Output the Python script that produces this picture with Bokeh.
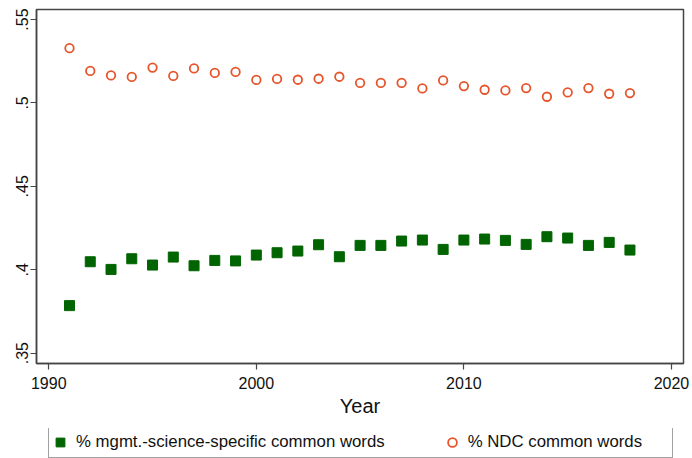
from bokeh.plotting import figure
from bokeh.models import Range1d, Legend, LegendItem, FixedTicker
from bokeh.layouts import column
from bokeh.embed import file_html
from bokeh.resources import INLINE

years = list(range(1991, 2019))
ndc_common = [0.5328, 0.5192, 0.5165, 0.5156, 0.5212, 0.5162, 0.5207, 0.5180, 0.5186, 0.5138,
              0.5144, 0.5139, 0.5145, 0.5157, 0.5120, 0.5120, 0.5120, 0.5087, 0.5135, 0.5101,
              0.5079, 0.5075, 0.5089, 0.5037, 0.5063, 0.5089, 0.5055, 0.5059]
mgmt_common = [0.3785, 0.4048, 0.4002, 0.4066, 0.4028, 0.4076, 0.4024, 0.4056, 0.4053, 0.4088,
               0.4102, 0.4112, 0.4150, 0.4078, 0.4146, 0.4146, 0.4172, 0.4178, 0.4122, 0.4178,
               0.4184, 0.4176, 0.4152, 0.4198, 0.4190, 0.4146, 0.4164, 0.4118]
x_ticks = [1990, 2000, 2010, 2020]
y_ticks = [0.35, 0.4, 0.45, 0.5, 0.55]
y_tick_labels = [".35", ".4", ".45", ".5", ".55"]
label_mgmt = "% mgmt.-science-specific common words"
label_ndc = "% NDC common words"

FONT = "Liberation Sans"
GREEN = "#006400"
ORANGE = "#e6552b"
FRAME = "#444444"

# ---------------- main chart ----------------
p = figure(width=692, height=428, output_backend="svg", toolbar_location=None,
           x_range=Range1d(1989.41, 2020.58), y_range=Range1d(0.3438, 0.5560),
           min_border_left=36, min_border_right=9, min_border_top=9, min_border_bottom=65)
p.background_fill_color = "white"
p.border_fill_color = "white"
p.outline_line_color = FRAME
p.outline_line_width = 1.5
p.xgrid.visible = False
p.ygrid.visible = False

p.scatter(years, mgmt_common, marker="square", size=10, fill_color=GREEN,
          line_color=GREEN, line_width=1)
p.scatter(years, ndc_common, marker="circle", size=8.5, fill_color="white",
          line_color=ORANGE, line_width=1.8)

for ax in (p.xaxis[0], p.yaxis[0]):
    ax.axis_line_color = FRAME
    ax.axis_line_width = 1.5
    ax.major_tick_line_color = FRAME
    ax.major_tick_line_width = 1.2
    ax.major_tick_in = 0
    ax.major_tick_out = 6
    ax.minor_tick_line_color = None
    ax.major_label_text_font = FONT
    ax.major_label_text_font_size = "16px"
    ax.major_label_text_color = "#111111"

p.xaxis.ticker = FixedTicker(ticks=x_ticks)
p.xaxis.major_label_standoff = 7
p.xaxis.axis_label = "Year"
p.xaxis.axis_label_text_font = FONT
p.xaxis.axis_label_text_font_size = "20px"
p.xaxis.axis_label_text_font_style = "normal"
p.xaxis.axis_label_text_color = "#111111"
p.xaxis.axis_label_standoff = 3

p.yaxis.ticker = FixedTicker(ticks=y_ticks)
p.yaxis.major_label_overrides = {t: s for t, s in zip(y_ticks, y_tick_labels)}
p.yaxis.major_label_orientation = "vertical"
p.yaxis.major_label_standoff = 2

# ---------------- legend strip (key renderers lie outside this strip's ranges) ----------------
lg = figure(width=692, height=30, output_backend="svg", toolbar_location=None,
            x_range=Range1d(0, 1), y_range=Range1d(0, 1),
            min_border_left=0, min_border_right=0, min_border_top=0, min_border_bottom=0)
lg.axis.visible = False
lg.xgrid.visible = False
lg.ygrid.visible = False
lg.outline_line_color = None
lg.background_fill_color = "white"
lg.border_fill_color = "white"
k_mgmt = lg.scatter(years, mgmt_common, marker="square", size=10, fill_color=GREEN,
                    line_color=GREEN, line_width=1)
k_ndc = lg.scatter(years, ndc_common, marker="circle", size=8.5, fill_color="white",
                   line_color=ORANGE, line_width=1.8)

legend = Legend(items=[LegendItem(label=label_mgmt, renderers=[k_mgmt]),
                       LegendItem(label=label_ndc, renderers=[k_ndc])],
                orientation="horizontal", location=(12, 0), padding=0, margin=0,
                glyph_width=22, glyph_height=30, label_standoff=5, spacing=56,
                label_width=204, label_text_font=FONT, label_text_font_size="16.8px",
                label_text_color="#111111", border_line_color=FRAME, border_line_width=1.5,
                background_fill_color="white", background_fill_alpha=1.0)
lg.add_layout(legend, "center")

layout = column(p, lg, spacing=0)
open("out.html", "w").write(file_html(layout, INLINE))
